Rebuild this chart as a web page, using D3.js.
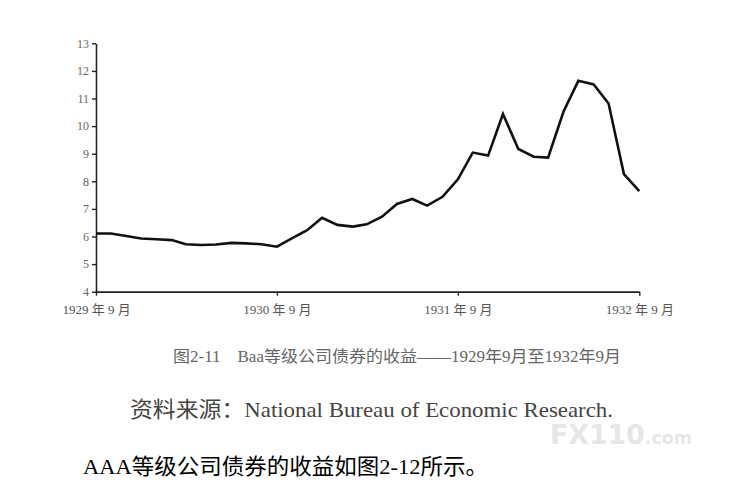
<!DOCTYPE html>
<html>
<head>
<meta charset="utf-8">
<script src="https://cdn.jsdelivr.net/npm/d3@7"></script>
<style>
  html, body { margin: 0; padding: 0; background: #fff; }
  svg { display: block; }
</style>
</head>
<body>
<div id="chart"></div>
<script>
// Baa 等级公司债券收益, 1929年9月 - 1932年9月 (月度, 读图估计)
const startMonth = new Date(1929, 8, 1);
const yields = [
  6.11, 6.11, 6.02, 5.93, 5.90, 5.87, 5.72, 5.69, 5.71, 5.77, 5.75, 5.72,
  5.63, 5.93, 6.23, 6.68, 6.42, 6.36, 6.44, 6.72, 7.18, 7.36, 7.12, 7.44,
  8.07, 9.04, 8.93, 10.44, 9.17, 8.89, 8.86, 10.52, 11.64, 11.51, 10.82, 8.26,
  7.64
];
const yTicks = [4, 5, 6, 7, 8, 9, 10, 11, 12, 13];
const xTickYears = [1929, 1930, 1931, 1932];
const caption = "图2-11\u3000Baa等级公司债券的收益——1929年9月至1932年9月";
const sourceText = "资料来源：National Bureau of Economic Research.";
const bodyText = "AAA等级公司债券的收益如图2-12所示。";

const W = 732, H = 492;
const serif = "'Liberation Serif', 'Times New Roman', 'Noto Sans CJK SC', serif";

const svg = d3.select("#chart").append("svg")
  .attr("width", W).attr("height", H)
  .attr("viewBox", `0 0 ${W} ${H}`);

svg.append("rect").attr("width", W).attr("height", H).attr("fill", "#fff");

const data = yields.map((v, i) => ({ date: d3.timeMonth.offset(startMonth, i), value: v }));

// escalas
const x = d3.scaleTime()
  .domain([startMonth, new Date(1932, 8, 1)])
  .range([96, 639.3]);
const y = d3.scaleLinear().domain([4, 13]).range([291.7, 43.3]);

// eixo Y
const gy = svg.append("g")
  .attr("transform", `translate(${x.range()[0]},0)`)
  .call(d3.axisLeft(y).tickValues(yTicks).tickSize(4).tickSizeOuter(0).tickPadding(3));
gy.select(".domain").attr("stroke", "#222").attr("stroke-width", 1.6);
gy.selectAll(".tick line").attr("stroke", "#222").attr("stroke-width", 1.4);
gy.selectAll(".tick text")
  .attr("fill", "#666").attr("font-size", 12).attr("font-family", serif);

// eixo X
const gx = svg.append("g")
  .attr("transform", `translate(0,${y.range()[0]})`)
  .call(d3.axisBottom(x)
    .tickValues(xTickYears.map(yr => new Date(yr, 8, 1)))
    .tickFormat(d => `${d.getFullYear()} 年 9 月`)
    .tickSize(4).tickSizeOuter(0).tickPadding(9));
gx.select(".domain").attr("stroke", "#222").attr("stroke-width", 1.8);
gx.selectAll(".tick line").attr("stroke", "#222").attr("stroke-width", 1.4);
gx.selectAll(".tick text")
  .attr("fill", "#555").attr("font-size", 13).attr("font-family", serif);

// linha
svg.append("path")
  .datum(data)
  .attr("fill", "none")
  .attr("stroke", "#111")
  .attr("stroke-width", 2.6)
  .attr("stroke-linejoin", "miter")
  .attr("d", d3.line().x(d => x(d.date)).y(d => y(d.value)));

// textos abaixo do grafico
svg.append("text")
  .attr("x", 173).attr("y", 362)
  .attr("font-family", serif).attr("font-size", 16).attr("fill", "#666")
  .attr("textLength", 448).attr("lengthAdjust", "spacingAndGlyphs")
  .text(caption);

svg.append("text")
  .attr("x", 130).attr("y", 417)
  .attr("font-family", serif).attr("font-size", 22).attr("fill", "#444")
  .attr("textLength", 483).attr("lengthAdjust", "spacingAndGlyphs")
  .text(sourceText);

// marca d'agua
const wm = svg.append("text")
  .attr("x", 550).attr("y", 444)
  .attr("font-family", "'DejaVu Sans', sans-serif")
  .attr("fill", "#e6e6e6")
  .attr("textLength", 142).attr("lengthAdjust", "spacingAndGlyphs");
wm.append("tspan").attr("font-size", 26).attr("font-weight", "bold").text("FX110");
wm.append("tspan").attr("font-size", 17).attr("font-weight", "bold").text(".com");

svg.append("text")
  .attr("x", 83).attr("y", 474)
  .attr("font-family", serif).attr("font-size", 22).attr("fill", "#000")
  .attr("textLength", 405).attr("lengthAdjust", "spacingAndGlyphs")
  .text(bodyText);
</script>
</body>
</html>
